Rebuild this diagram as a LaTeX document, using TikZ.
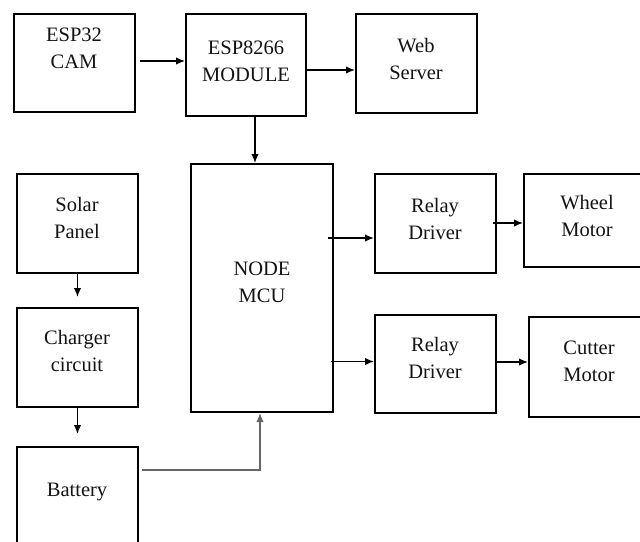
\documentclass[tikz,border=0pt]{standalone}
\usepackage{fontspec}
\setmainfont{Liberation Serif}
\usetikzlibrary{arrows.meta,calc}
\begin{document}
\begin{tikzpicture}[x=1pt,y=-1pt,
  box/.style={draw=black,line width=2pt,inner sep=0pt},
  lbl/.style={align=center,font=\fontsize{20.5}{27}\selectfont,text=black!92,inner sep=0pt},
  arr/.style={line width=1.4pt,-{Latex[length=9pt,width=7.5pt]}}]
\clip (0,0) rectangle (640,541);
\fill[white] (0,0) rectangle (640,541);
% boxes
\node[box,minimum width=121pt,minimum height=98pt] (cam) at (74.5,63) {};
\node[box,minimum width=120pt,minimum height=102pt] (esp) at (246,65) {};
\node[box,minimum width=121pt,minimum height=99pt] (web) at (416.5,63.5) {};
\node[box,minimum width=142pt,minimum height=248pt] (mcu) at (262,288) {};
\node[box,minimum width=121pt,minimum height=99pt] (solar) at (77.5,223.5) {};
\node[box,minimum width=121pt,minimum height=99pt] (charger) at (77.5,357.5) {};
\node[box,minimum width=121pt,minimum height=120pt] (battery) at (77.5,507) {};
\node[box,minimum width=121pt,minimum height=99pt] (relay1) at (435.5,223.5) {};
\node[box,minimum width=136pt,minimum height=93pt] (wheel) at (592,220.5) {};
\node[box,minimum width=121pt,minimum height=98pt] (relay2) at (435.5,364) {};
\node[box,minimum width=131pt,minimum height=100pt] (cutter) at (594.5,367) {};
% labels
\node[lbl] (tcam) at (74,48.5) {ESP32\\CAM};
\node[lbl] (tesp) at (246,61.5) {ESP8266\\MODULE};
\node[lbl] (tweb) at (416,58.5) {Web\\Server};
\node[lbl] (tmcu) at (262,282.5) {NODE\\MCU};
\node[lbl] (tsolar) at (77,218) {Solar\\Panel};
\node[lbl] (tcharger) at (77,351) {Charger\\circuit};
\node[lbl] (tbattery) at (77,492) {Battery};
\node[lbl] (trelay1) at (435,218.5) {Relay\\Driver};
\node[lbl] (twheel) at (587,216) {Wheel\\Motor};
\node[lbl] (trelay2) at (435,358) {Relay\\Driver};
\node[lbl] (tcutter) at (589,361.5) {Cutter\\Motor};
% connectors
\draw[arr] ($(cam.east)+(4,-2)$) -- ($(esp.west)+(0,-4)$);
\draw[arr] ($(esp.east)+(0,5)$) -- ($(web.west)+(0,6.5)$);
\draw[arr] ($(esp.south)+(9,0)$) -- ($(mcu.north)+(-7,0)$);
\draw[arr] (solar.south) -- ($(charger.north)+(0,-10)$);
\draw[arr] (charger.south) -- ($(battery.north)+(0,-12)$);
\coordinate (batout) at ($(battery.north east)+(3,24)$);
\draw[arr,draw=black!60] (batout) -| ($(mcu.south)+(-2,0)$);
\draw[arr] ($(mcu.east)+(-6,-50)$) -- ($(relay1.west)+(0,14.5)$);
\draw[arr] ($(mcu.east)+(-3,73.5)$) -- ($(relay2.west)+(0,-2.5)$);
\draw[arr] ($(relay1.east)+(-4,-0.5)$) -- ($(wheel.west)+(0,2.5)$);
\draw[arr] ($(relay2.east)+(0,-2)$) -- ($(cutter.west)+(0,-5)$);
\end{tikzpicture}
\end{document}
